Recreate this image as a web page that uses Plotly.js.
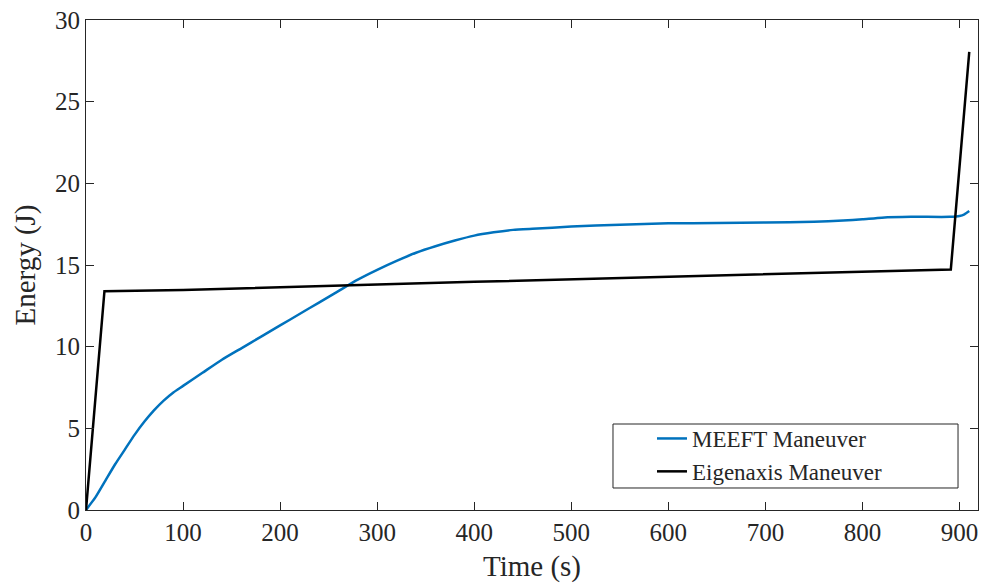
<!DOCTYPE html>
<html>
<head>
<meta charset="utf-8">
<script src="https://cdn.plot.ly/plotly-3.0.1.min.js"></script>
<style>html,body{margin:0;padding:0;background:#fff;}#chart{width:984px;height:588px;}</style>
</head>
<body>
<div id="chart"></div>
<script>
const meeftTime = [0,10,20,30,40,50,60,70,80,90,100,120,140,160,180,200,220,240,260,280,300,320,340,360,380,400,420,440,460,500,550,600,650,700,750,780,800,820,850,890,900,905,910];
const meeftEnergy = [0,0.8,1.8,2.8,3.7,4.6,5.4,6.1,6.7,7.2,7.6,8.4,9.2,9.9,10.6,11.3,12.0,12.7,13.4,14.1,14.7,15.25,15.75,16.15,16.5,16.8,17.0,17.15,17.22,17.35,17.47,17.55,17.57,17.6,17.65,17.72,17.8,17.9,17.95,17.95,18.0,18.1,18.3];
const eigenTime = [0,19,100,200,300,400,500,600,700,800,891,910];
const eigenEnergy = [0,13.4,13.47,13.62,13.8,13.97,14.13,14.3,14.45,14.6,14.73,28.05];
const xTicks = [0,100,200,300,400,500,600,700,800,900];
const yTicks = [0,5,10,15,20,25,30];

const font = "Liberation Serif, DejaVu Serif, serif";
const traces = [
  {x: meeftTime, y: meeftEnergy, mode: 'lines', name: 'MEEFT Maneuver',
   line: {color: '#0072BD', width: 2.5, shape: 'spline', smoothing: 0.5}},
  {x: eigenTime, y: eigenEnergy, mode: 'lines', name: 'Eigenaxis Maneuver',
   line: {color: '#000000', width: 2.5}}
];
const axisCommon = {
  showgrid: false, zeroline: false, showline: true, linecolor: '#262626', linewidth: 1,
  mirror: 'ticks', ticks: 'inside', ticklen: 8, tickcolor: '#262626',
  tickfont: {family: font, size: 25, color: '#262626'}
};
const layout = {
  width: 984, height: 588,
  margin: {l: 86, r: 6, t: 20, b: 78},
  paper_bgcolor: '#fff', plot_bgcolor: '#fff',
  font: {family: font, color: '#262626'},
  xaxis: Object.assign({}, axisCommon, {
    range: [0, 919], tickvals: xTicks, ticktext: xTicks.map(String),
    title: {text: 'Time (s)', font: {family: font, size: 29, color: '#262626'}, standoff: 10}
  }),
  yaxis: Object.assign({}, axisCommon, {
    range: [0, 30], tickvals: yTicks, ticktext: yTicks.map(String),
    title: {text: 'Energy (J)', font: {family: font, size: 29, color: '#262626'}, standoff: 10}
  }),
  legend: {
    x: 0.6345, y: 0.1898, xanchor: 'left', yanchor: 'top',
    bgcolor: 'rgba(0,0,0,0)', borderwidth: 0,
    font: {family: font, size: 23, color: '#262626'},
    tracegroupgap: 0
  },
  shapes: [{type: 'rect', xref: 'paper', yref: 'paper', x0: 0.5908, x1: 0.9776, y0: 0.0449, y1: 0.1755,
    line: {color: '#262626', width: 1}, fillcolor: '#fff', layer: 'above'}],
  showlegend: true
};
Plotly.newPlot('chart', traces, layout, {displayModeBar: false, staticPlot: true});
</script>
</body>
</html>
